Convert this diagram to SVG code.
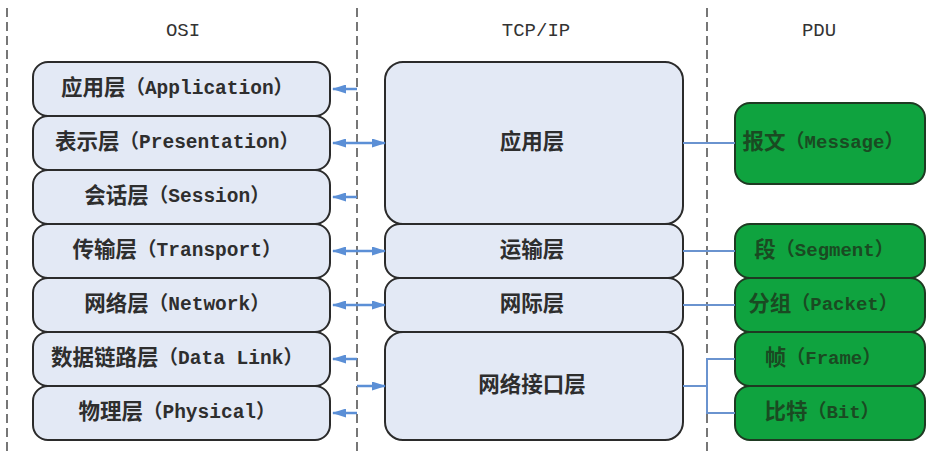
<svg xmlns="http://www.w3.org/2000/svg" width="926" height="451" viewBox="0 0 926 451">
<style>
.dash{stroke:#555;stroke-width:1.6;stroke-dasharray:9 5;fill:none}
.hd{font-family:"Liberation Mono","Noto Sans CJK SC",monospace;font-size:19px;fill:#333;text-anchor:middle}
.box{fill:#e3e9f5;stroke:#2b2b2b;stroke-width:2}
.pdu{fill:#0fa33f;stroke:#1e3a22;stroke-width:2}
.t{font-family:"Liberation Mono","Noto Sans CJK SC",monospace;font-size:19.5px;font-weight:bold;fill:#2e2e2e;text-anchor:middle;dominant-baseline:central}
.tg{font-family:"Liberation Mono","Noto Sans CJK SC",monospace;font-size:19px;font-weight:bold;fill:#1a4a22;text-anchor:middle;dominant-baseline:central}
.c{font-size:21.5px}
.ln{stroke:#6a93cf;stroke-width:2;fill:none}
.ar{stroke:#5b8fd6;stroke-width:2.5;fill:none}
</style>
<defs>
<marker id="ah" viewBox="0 0 14 9" refX="13" refY="4.5" markerWidth="14" markerHeight="9" orient="auto-start-reverse" markerUnits="userSpaceOnUse">
<path d="M0,0 L14,4.5 L0,9 Z" fill="#5b8fd6"/>
</marker>
</defs>
<g id="separators">
<line class="dash" x1="7" y1="8" x2="7" y2="451"/>
<line class="dash" x1="357" y1="8" x2="357" y2="451"/>
<line class="dash" x1="707" y1="8" x2="707" y2="451"/>
</g>
<g id="headers">
<text class="hd" x="183" y="36">OSI</text>
<text class="hd" x="536" y="36">TCP/IP</text>
<text class="hd" x="819" y="36">PDU</text>
</g>
<g id="osi-application"><rect class="box" x="33" y="62" width="297" height="54" rx="15"/><text class="t" x="177" y="89"><tspan class="c">应用层</tspan>（Application）</text></g>
<g id="osi-presentation"><rect class="box" x="33" y="116" width="297" height="54" rx="15"/><text class="t" x="177" y="143"><tspan class="c">表示层</tspan>（Presentation）</text></g>
<g id="osi-session"><rect class="box" x="33" y="170" width="297" height="54" rx="15"/><text class="t" x="177" y="197"><tspan class="c">会话层</tspan>（Session）</text></g>
<g id="osi-transport"><rect class="box" x="33" y="224" width="297" height="54" rx="15"/><text class="t" x="177" y="251"><tspan class="c">传输层</tspan>（Transport）</text></g>
<g id="osi-network"><rect class="box" x="33" y="278" width="297" height="54" rx="15"/><text class="t" x="177" y="305"><tspan class="c">网络层</tspan>（Network）</text></g>
<g id="osi-datalink"><rect class="box" x="33" y="332" width="297" height="54" rx="15"/><text class="t" x="177" y="359"><tspan class="c">数据链路层</tspan>（Data Link）</text></g>
<g id="osi-physical"><rect class="box" x="33" y="386" width="297" height="54" rx="15"/><text class="t" x="177" y="413"><tspan class="c">物理层</tspan>（Physical）</text></g>
<g id="tcp-application"><rect class="box" x="385" y="62" width="298" height="162" rx="18"/><text class="t c" x="532" y="143">应用层</text></g>
<g id="tcp-transport"><rect class="box" x="385" y="224" width="298" height="54" rx="15"/><text class="t c" x="532" y="251">运输层</text></g>
<g id="tcp-internet"><rect class="box" x="385" y="278" width="298" height="54" rx="15"/><text class="t c" x="532" y="305">网际层</text></g>
<g id="tcp-netif"><rect class="box" x="385" y="332" width="298" height="108" rx="18"/><text class="t c" x="532" y="386">网络接口层</text></g>
<g id="pdu-message"><rect class="pdu" x="735" y="103" width="190" height="81" rx="15"/><text class="tg" x="823" y="143"><tspan class="c">报文</tspan>（Message）</text></g>
<g id="pdu-segment"><rect class="pdu" x="735" y="224" width="190" height="54" rx="15"/><text class="tg" x="824" y="251"><tspan class="c">段</tspan>（Segment）</text></g>
<g id="pdu-packet"><rect class="pdu" x="735" y="278" width="190" height="54" rx="15"/><text class="tg" x="823" y="305"><tspan class="c">分组</tspan>（Packet）</text></g>
<g id="pdu-frame"><rect class="pdu" x="735" y="332" width="190" height="54" rx="15"/><text class="tg" x="823" y="359"><tspan class="c">帧</tspan>（Frame）</text></g>
<g id="pdu-bit"><rect class="pdu" x="735" y="386" width="190" height="54" rx="15"/><text class="tg" x="822" y="413"><tspan class="c">比特</tspan>（Bit）</text></g>
<g id="connectors">
<line class="ar" x1="357" y1="89" x2="333" y2="89" marker-end="url(#ah)"/>
<line class="ar" x1="333" y1="143" x2="385" y2="143" marker-start="url(#ah)" marker-end="url(#ah)"/>
<line class="ar" x1="357" y1="197" x2="333" y2="197" marker-end="url(#ah)"/>
<line class="ar" x1="333" y1="251" x2="385" y2="251" marker-start="url(#ah)" marker-end="url(#ah)"/>
<line class="ar" x1="333" y1="305" x2="385" y2="305" marker-start="url(#ah)" marker-end="url(#ah)"/>
<line class="ar" x1="357" y1="359" x2="333" y2="359" marker-end="url(#ah)"/>
<line class="ar" x1="357" y1="386" x2="385" y2="386" marker-end="url(#ah)"/>
<line class="ar" x1="357" y1="413" x2="333" y2="413" marker-end="url(#ah)"/>
<line class="ln" x1="683" y1="143" x2="735" y2="143"/>
<line class="ln" x1="683" y1="251" x2="735" y2="251"/>
<line class="ln" x1="683" y1="305" x2="735" y2="305"/>
<path class="ln" d="M683,386 H707 M735,359 H707 V413 H735"/>
</g>
</svg>
